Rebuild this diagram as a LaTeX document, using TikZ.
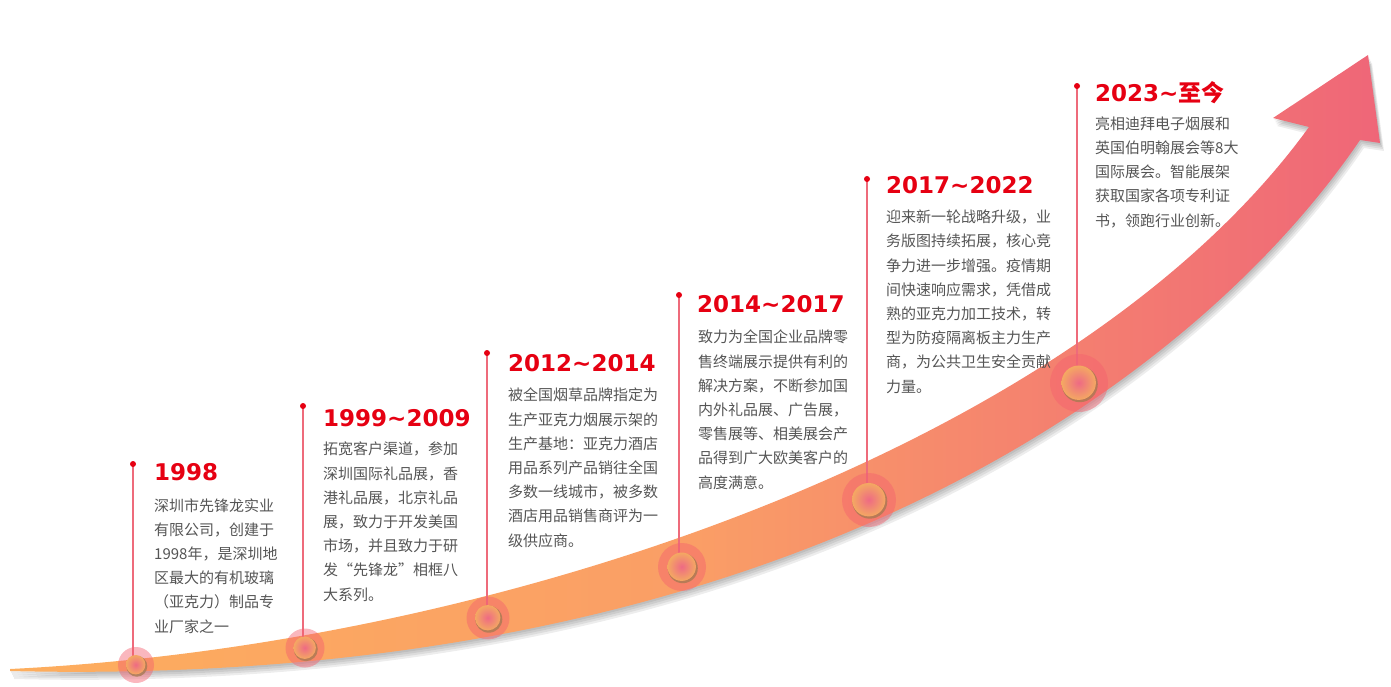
\documentclass[tikz,border=0pt]{standalone}
\usepackage{fontspec}
\newfontfamily\cjk{Noto Sans CJK SC}
\newfontfamily\yearfont{DejaVu Sans}
\definecolor{yearred}{HTML}{E60012}
\definecolor{storygray}{HTML}{555555}
\definecolor{bandorange}{HTML}{FDAE5E}
\definecolor{bandmid}{HTML}{FA9E66}
\definecolor{bandpink}{HTML}{EF6678}
\definecolor{stempink}{HTML}{EE6B7B}
\definecolor{halopink}{HTML}{F4606E}
\definecolor{ballpink}{HTML}{EE6A84}
\definecolor{ballorange}{HTML}{F4A862}
\definecolor{ballrim}{HTML}{A87A52}
\newcommand{\arrowoutline}{(10,669) .. controls (500,645) and (1077,447) .. (1309,127)
  -- (1273,118) -- (1368,55) -- (1380,143) -- (1360,140)
  .. controls (1205,368) and (800,690) .. (10,671) -- cycle}
\tikzset{
  year/.style={anchor=base west, inner sep=0pt, text=yearred,
    font=\yearfont\bfseries\fontsize{23}{23}\selectfont},
  % base of a story node = baseline of its last line
  story/.style={anchor=base west, inner sep=0pt, align=left, text=storygray,
    font=\cjk\fontsize{15}{24.2}\selectfont},
  dot/.style={circle, fill=yearred, inner sep=0pt, minimum size=6pt},
  stem/.style={draw=stempink, line width=1.1pt},
  halo/.style={circle, fill=halopink, fill opacity=.45, inner sep=0pt},
  rim/.style={circle, fill=ballrim, fill opacity=.8, inner sep=0pt},
  ball/.style={circle, inner sep=0pt, inner color=ballpink, outer color=ballorange}
}
\begin{document}
\begin{tikzpicture}[x=1pt, y=-1pt]
  \useasboundingbox (0,0) rectangle (1391,686);
  % shadow and rising arrow
  \foreach \s in {2,4,6,8}
    \fill[black, opacity=.07, xshift=.5*\s pt, yshift=-\s pt] \arrowoutline;
  \shade[left color=bandorange, right color=bandpink, middle color=bandmid] \arrowoutline;

  % stems and balls
  \foreach \n/\dx/\dy/\bx/\by/\hr/\br in {1/133/464/136/665/18/10.5, 2/303/406/305/648/19.5/12,
      3/487/353/488/618/21.5/13.5, 4/679/295/682/567/24/15,
      5/867/179/869/500/27/17.5, 6/1077/86/1079/383/29/18}{
    \coordinate (c\n) at (\bx,\by);
    \coordinate (t\n) at (\dx,\dy);
    \draw[stem] (t\n) -- (t\n |- c\n);
    \node[halo, minimum size=2*\hr pt] (h\n) at (c\n) {};
    \node[rim, minimum size=2*\br pt, xshift=.8pt, yshift=-1.2pt] (r\n) at (c\n) {};
    \node[ball, minimum size=2*\br pt-1.6pt, xshift=-.3pt, yshift=.3pt] (b\n) at (c\n) {};
    \node[dot] (d\n) at (t\n) {};
  }

  % years
  \node[year] (y1) at (154,480) {1998};
  \node[year] (y2) at (323,426) {1999\textasciitilde2009};
  \node[year] (y3) at (508,371) {2012\textasciitilde2014};
  \node[year] (y4) at (697,312) {2014\textasciitilde2017};
  \node[year] (y5) at (886,193) {2017\textasciitilde2022};
  \node[year] (y6) at (1095,101) {2023\textasciitilde{\cjk\bfseries 至今}};

  % stories
  \node[story] (s1) at (154,632) {深圳市先锋龙实业\\有限公司，创建于\\1998年，是深圳地\\区最大的有机玻璃\\（亚克力）制品专\\业厂家之一};
  \node[story] (s2) at (323,600) {拓宽客户渠道，参加\\深圳国际礼品展，香\\港礼品展，北京礼品\\展，致力于开发美国\\市场，并且致力于研\\发“先锋龙”相框八\\大系列。};
  \node[story] (s3) at (508,546) {被全国烟草品牌指定为\\生产亚克力烟展示架的\\生产基地：亚克力酒店\\用品系列产品销往全国\\多数一线城市，被多数\\酒店用品销售商评为一\\级供应商。};
  \node[story] (s4) at (698,488) {致力为全国企业品牌零\\售终端展示提供有利的\\解决方案，不断参加国\\内外礼品展、广告展，\\零售展等、相美展会产\\品得到广大欧美客户的\\高度满意。};
  \node[story] (s5) at (886,392) {迎来新一轮战略升级，业\\务版图持续拓展，核心竞\\争力进一步增强。疫情期\\间快速响应需求，凭借成\\熟的亚克力加工技术，转\\型为防疫隔离板主力生产\\商，为公共卫生安全贡献\\力量。};
  \node[story] (s6) at (1095,226) {亮相迪拜电子烟展和\\英国伯明翰展会等8大\\国际展会。智能展架\\获取国家各项专利证\\书，领跑行业创新。};
\end{tikzpicture}
\end{document}
